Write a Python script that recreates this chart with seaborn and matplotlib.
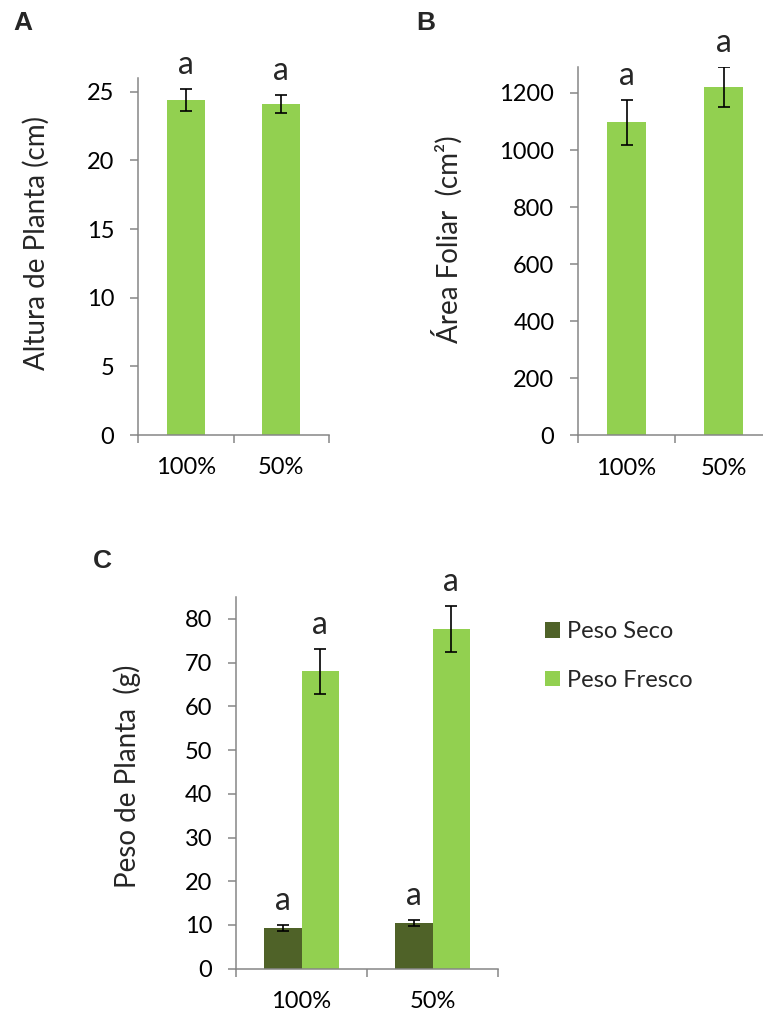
import matplotlib
matplotlib.use("Agg")
import matplotlib.pyplot as plt
from matplotlib.ticker import FixedLocator
import seaborn as sns
import pandas as pd

# ---- data ----
tratamientos = ["100%", "50%"]

altura_media = [24.4, 24.1]
altura_err = [0.8, 0.65]

area_media = [1097, 1220]
area_err = [78, 71]

peso_seco = [9.3, 10.4]
peso_seco_err = [0.65, 0.65]
peso_fresco = [68.0, 77.7]
peso_fresco_err = [5.1, 5.2]

letras = ["a", "a"]

VERDE = "#92D050"
VERDE_OSCURO = "#4F6228"
GRIS = "#868686"

TICK_FS = 17
LABEL_FS = 20
LETRA_FS = 23

sns.set_theme(style="white")
plt.rcParams["font.family"] = ["Lato", "DejaVu Sans"]

W, H = 763, 1015
fig = plt.figure(figsize=(W / 100, H / 100), dpi=100)


def ax_px(left, top, right, bottom):
    """Axes from pixel box (left, top, right, bottom)."""
    return fig.add_axes([left / W, 1 - bottom / H, (right - left) / W, (bottom - top) / H])


def estilo(ax, ymax, yticks):
    ax.set_ylim(0, ymax)
    ax.set_xlim(-0.5, 1.5)
    ax.set_yticks(yticks)
    for s in ["top", "right"]:
        ax.spines[s].set_visible(False)
    for s in ["left", "bottom"]:
        ax.spines[s].set_color(GRIS)
        ax.spines[s].set_linewidth(1.1)
    ax.tick_params(axis="y", direction="out", length=6, width=1.1, color=GRIS,
                   labelsize=TICK_FS, pad=11, left=True, labelcolor="black")
    ax.tick_params(axis="x", which="major", length=0, labelsize=TICK_FS, pad=16,
                   labelcolor="black")
    ax.xaxis.set_minor_locator(FixedLocator([-0.5, 0.5, 1.5]))
    ax.tick_params(axis="x", which="minor", direction="out", length=6, width=1.1,
                   color=GRIS, bottom=True)
    ax.set_xlabel("")


def errores(ax, container, medias, errs):
    xs = [p.get_x() + p.get_width() / 2 for p in container.patches]
    ax.errorbar(xs, medias, yerr=errs, fmt="none", ecolor="black",
                elinewidth=1.2, capsize=4, capthick=1.2, zorder=5)
    for x, m, e, t in zip(xs, medias, errs, letras):
        ax.annotate(t, xy=(x, m + e), xytext=(0, 11), textcoords="offset points",
                    ha="center", va="baseline", fontsize=LETRA_FS,
                    annotation_clip=False)


# ---- A: altura de planta ----
axA = ax_px(138, 78, 329, 435)
dfA = pd.DataFrame({"Tratamiento": tratamientos, "Altura": altura_media})
sns.barplot(data=dfA, x="Tratamiento", y="Altura", color=VERDE, width=0.4,
            errorbar=None, linewidth=0, saturation=1, ax=axA)
estilo(axA, 26, range(0, 26, 5))
errores(axA, axA.containers[0], altura_media, altura_err)
axA.set_ylabel("Altura de Planta (cm)", fontsize=LABEL_FS)
axA.yaxis.label.set_va("center")
axA.yaxis.set_label_coords((36 - 138) / 191, (435 - 243) / 357)

# ---- B: área foliar ----
axB = ax_px(578, 66.7, 772, 435.3)
dfB = pd.DataFrame({"Tratamiento": tratamientos, "Area": area_media})
sns.barplot(data=dfB, x="Tratamiento", y="Area", color=VERDE, width=0.4,
            errorbar=None, linewidth=0, saturation=1, ax=axB)
estilo(axB, 1292, range(0, 1201, 200))
errores(axB, axB.containers[0], area_media, area_err)
axB.set_ylabel("Área Foliar  (cm²)", fontsize=LABEL_FS)
axB.yaxis.label.set_va("center")
axB.yaxis.set_label_coords((447 - 578) / 194, (435.3 - 239.5) / 368.6)

# ---- C: peso de planta ----
axC = ax_px(236, 597, 498, 968.7)
dfC = pd.DataFrame({
    "Tratamiento": tratamientos * 2,
    "Medida": ["Peso Seco"] * 2 + ["Peso Fresco"] * 2,
    "Peso": peso_seco + peso_fresco,
})
sns.barplot(data=dfC, x="Tratamiento", y="Peso", hue="Medida",
            palette={"Peso Seco": VERDE_OSCURO, "Peso Fresco": VERDE},
            width=0.57, errorbar=None, linewidth=0, saturation=1, ax=axC)
estilo(axC, 85, range(0, 81, 10))
errores(axC, axC.containers[0], peso_seco, peso_seco_err)
errores(axC, axC.containers[1], peso_fresco, peso_fresco_err)
axC.set_ylabel("Peso de Planta  (g)", fontsize=LABEL_FS)
axC.yaxis.label.set_va("center")
axC.yaxis.set_label_coords((127.5 - 236) / 262, (968.7 - 776.5) / 371.7)
sns.move_legend(axC, loc="upper left", bbox_to_anchor=(545 / W, 1 - 621 / H),
                bbox_transform=fig.transFigure, title=None, frameon=False,
                fontsize=TICK_FS, handlelength=0.64, handleheight=0.64,
                handletextpad=0.3, labelspacing=1.17, borderpad=0,
                borderaxespad=0)

# ---- panel letters ----
for letra, x, y in [("A", 13, 30), ("B", 416, 30), ("C", 93, 568)]:
    fig.text(x / W, 1 - y / H, letra, fontsize=19, fontweight="bold",
             family=["Liberation Sans", "DejaVu Sans"], ha="left", va="baseline")

fig.savefig("out.png", dpi=100)
